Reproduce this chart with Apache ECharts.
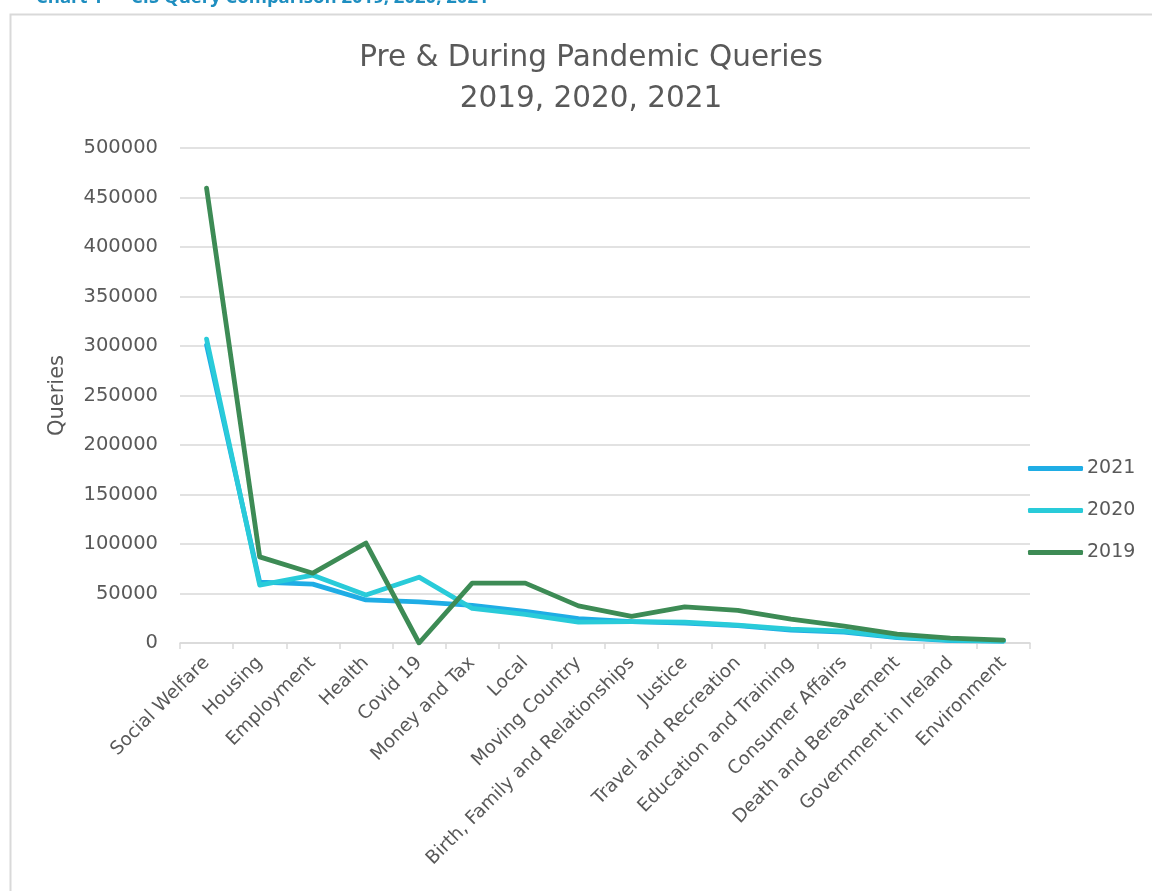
<!DOCTYPE html>
<html><head><meta charset="utf-8">
<script src="https://cdn.jsdelivr.net/npm/echarts@6/dist/echarts.min.js"></script>
<style>html,body{margin:0;padding:0;background:#fff}#c{width:1152px;height:891px}</style>
</head><body><div id="c"></div>
<script>
const categories = ["Social Welfare","Housing","Employment","Health","Covid 19","Money and Tax","Local","Moving Country","Birth, Family and Relationships","Justice","Travel and Recreation","Education and Training","Consumer Affairs","Death and Bereavement","Government in Ireland","Environment"];
const v2021 = [301000,61500,59500,43500,41500,38000,32000,24500,21500,20000,17500,13000,11000,5500,2500,2000];
const v2020 = [307000,58500,68500,48500,66500,35000,29000,21000,21500,21000,18000,14000,12000,6000,3000,2000];
const v2019 = [459500,87000,70500,101000,0,60500,60500,37500,27000,36500,33000,24000,17000,9000,5000,3000];
const yTicks = {min:0, max:500000, interval:50000};
const seriesNames = ["2021","2020","2019"];
const colors = ["#1fade5","#29cbd9","#3d8b55"];
const FONT = "DejaVu Sans";
const TXT = "#595959";

const chart = echarts.init(document.getElementById('c'));
const dataSets = [v2021, v2020, v2019];
chart.setOption({
  animation:false,
  graphic:[
    {type:'rect', shape:{x:10.5,y:14.5,width:1200,height:900}, style:{fill:'none',stroke:'#d9d9d9',lineWidth:2}},
    {type:'text', left:36, top:-12, style:{text:'Chart 1 — CIS Query Comparison 2019, 2020, 2021', fill:'#1e8ec0', font:'bold 18.5px "Open Sans"'}}
  ],
  title:{text:'Pre & During Pandemic Queries\n2019, 2020, 2021', left:586, top:33, textAlign:'center',
    textStyle:{fontFamily:FONT, fontSize:29.5, fontWeight:'normal', color:TXT, lineHeight:41}},
  legend:{orient:'vertical', left:1023, top:454, itemWidth:55, itemHeight:5, itemGap:23, icon:'roundRect',
    data:seriesNames, textStyle:{fontFamily:FONT, fontSize:19, color:TXT, padding:[0,0,0,-1]}},
  grid:{left:180, right:122, top:148, bottom:248},
  xAxis:{type:'category', data:categories, boundaryGap:true,
    axisLine:{lineStyle:{color:'#d9d9d9', width:1.5}},
    axisTick:{show:true, length:6, lineStyle:{color:'#d9d9d9', width:1.5}},
    axisLabel:{rotate:45, interval:0, fontFamily:FONT, fontSize:18.5, color:TXT, margin:17}},
  yAxis:{type:'value', min:yTicks.min, max:yTicks.max, interval:yTicks.interval,
    name:'Queries', nameLocation:'middle', nameGap:112, nameRotate:90,
    nameTextStyle:{fontFamily:FONT, fontSize:21, color:TXT},
    axisLine:{show:false}, axisTick:{show:false},
    splitLine:{lineStyle:{color:'#d9d9d9', width:1.5}},
    axisLabel:{fontFamily:FONT, fontSize:19.5, color:TXT, margin:22, formatter:v=>String(v)}},
  series: seriesNames.map((n,i)=>({name:n, type:'line', data:dataSets[i], symbol:'none',
    lineStyle:{width:4.8, color:colors[i], cap:'round', join:'round'}, itemStyle:{color:colors[i]}}))
});
</script></body></html>
